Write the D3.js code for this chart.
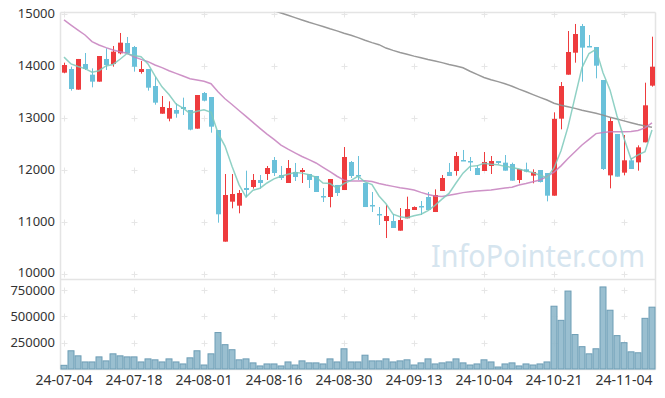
<!DOCTYPE html>
<html>
<head>
<meta charset="utf-8">
<script src="https://cdn.jsdelivr.net/npm/d3@7"></script>
<style>
  body { margin: 0; background: #fff; }
  text { font-family: "Noto Sans", "Open Sans", sans-serif; }
</style>
</head>
<body>
<div id="c1"></div>
<script>
// Data (trading days, 24-07-04 .. 24-11-08)
var dates = [
  "24-07-04","24-07-05","24-07-08","24-07-09","24-07-10","24-07-11","24-07-12","24-07-15","24-07-16","24-07-17",
  "24-07-18","24-07-19","24-07-22","24-07-23","24-07-24","24-07-25","24-07-26","24-07-29","24-07-30","24-07-31",
  "24-08-01","24-08-02","24-08-05","24-08-06","24-08-07","24-08-08","24-08-09","24-08-12","24-08-13","24-08-14",
  "24-08-16","24-08-19","24-08-20","24-08-21","24-08-22","24-08-23","24-08-26","24-08-27","24-08-28","24-08-29",
  "24-08-30","24-09-02","24-09-03","24-09-04","24-09-05","24-09-06","24-09-09","24-09-10","24-09-11","24-09-12",
  "24-09-13","24-09-19","24-09-20","24-09-23","24-09-24","24-09-25","24-09-26","24-09-27","24-09-30","24-10-02",
  "24-10-04","24-10-07","24-10-08","24-10-10","24-10-11","24-10-14","24-10-15","24-10-16","24-10-17","24-10-18",
  "24-10-21","24-10-22","24-10-23","24-10-24","24-10-25","24-10-28","24-10-29","24-10-30","24-10-31","24-11-01",
  "24-11-04","24-11-05","24-11-06","24-11-07","24-11-08"
];

var open = [
  13872,13942,13545,14038,13833,13699,14135,14038,14244,14442,
  14365,13885,13942,13615,13083,12987,13154,13212,13154,12795,
  13481,13404,12769,10622,11391,11314,11654,11673,11808,11923,
  12192,11904,11750,11962,11962,11923,11885,11500,11481,11712,
  11615,12154,11904,11750,11327,11154,11019,11019,10833,11071,
  11231,11308,11481,11192,11596,11962,11981,12192,12173,12038,
  11981,12077,12173,12141,12115,11808,12013,11891,12000,11942,
  11506,12987,13833,14256,14769,14385,14365,13731,11897,12692,
  11949,12186,12147,12532,13622
];
var high = [
  14064,13987,14135,14250,13955,14192,14340,14385,14635,14558,
  14385,14096,13942,13795,13423,13320,13282,13391,13154,13442,
  13500,13404,12769,11923,11923,11615,11987,11923,11904,12077,
  12250,12077,12192,12135,12038,11923,11885,11654,11827,11712,
  12442,12173,12269,11750,11577,11288,11327,11154,11269,11487,
  11300,11404,11577,11628,11904,12135,12346,12385,12250,12096,
  12346,12269,12173,12288,12141,12019,12141,12013,12000,11942,
  13109,13692,14673,14808,14808,14596,14365,13731,13006,12692,
  12673,12231,12474,13679,14564
];
var low = [
  13860,13526,13545,13923,13590,13699,13923,13987,14224,14244,
  13891,13853,13526,13256,13083,12936,13006,13058,12763,12795,
  13320,12718,10987,10622,11263,11167,11475,11641,11641,11808,
  11885,11808,11750,11788,11750,11654,11577,11385,11282,11500,
  11615,11846,11808,11288,11192,10942,10692,10885,10833,11071,
  11231,11135,11231,11192,11596,11885,11891,12173,11981,11904,
  11981,11923,12115,11987,11795,11744,11955,11744,11760,11397,
  11506,12782,13833,14064,13699,14365,13763,12000,11647,11872,
  11897,12019,11987,12532,13603
];
var close = [
  14019,13558,14135,13942,13699,14192,14019,14276,14449,14244,
  13987,13942,13583,13295,13212,13192,13083,13173,12776,13442,
  13333,12833,11148,11519,11538,11558,11615,11808,11750,12038,
  11942,11846,12038,11865,12000,11808,11577,11481,11827,11558,
  12250,11885,11885,11288,11308,11130,11115,10885,11038,11250,
  11288,11290,11231,11519,11846,11885,12269,12173,12154,11904,
  12154,12173,12135,11987,11795,12019,11968,11962,11769,11506,
  12981,13615,14269,14615,14353,14365,14006,12019,12942,11872,
  12186,12019,12436,13244,13987
];
var volume = [
  35000,173000,125000,67000,67000,115000,77000,144000,125000,115000,
  115000,67000,96000,87000,67000,96000,67000,48000,106000,173000,
  38000,144000,346000,231000,183000,87000,96000,58000,29000,48000,
  48000,29000,67000,38000,77000,58000,58000,48000,96000,67000,
  192000,67000,67000,131000,77000,77000,96000,67000,77000,87000,
  38000,58000,96000,48000,58000,67000,96000,58000,38000,48000,
  87000,67000,19000,48000,58000,29000,48000,38000,48000,67000,
  596000,462000,740000,327000,212000,144000,192000,779000,558000,317000,
  250000,163000,154000,481000,587000
];
var ma5 = [
  14170,14040,13990,13950,13880,13910,14000,14030,14130,14240,
  14200,14180,14040,13810,13600,13450,13270,13190,13090,13130,
  13160,13110,12710,12460,12070,11720,11480,11610,11650,11750,
  11830,11880,11920,11950,11940,11910,11860,11750,11740,11650,
  11740,11800,11880,11770,11720,11500,11350,11150,11100,11080,
  11120,11150,11220,11320,11440,11550,11750,11940,12070,12080,
  12130,12110,12100,12070,12050,12020,11980,11950,11900,11850,
  12040,12370,12830,13400,13970,14240,14320,13870,13540,13040,
  12610,12210,12290,12350,12770
];
var ma20 = [
  14885,14788,14692,14596,14468,14404,14353,14308,14276,14244,
  14179,14128,14083,14019,13968,13910,13859,13808,13756,13731,
  13705,13660,13506,13370,13260,13145,13030,12915,12800,12690,
  12590,12480,12400,12330,12260,12200,12135,12050,11967,11880,
  11805,11790,11790,11795,11780,11740,11710,11685,11660,11640,
  11615,11570,11530,11500,11490,11515,11540,11565,11583,11595,
  11605,11615,11635,11655,11670,11710,11740,11775,11808,11875,
  11960,12080,12220,12350,12480,12590,12700,12720,12737,12737,
  12737,12740,12760,12810,12905
];
var ma60 = [
  null,null,null,null,null,null,null,null,null,null,
  null,null,null,null,null,null,null,null,null,null,
  null,null,null,null,null,null,null,null,null,15110,
  15065,15020,14975,14930,14885,14840,14800,14760,14715,14675,
  14630,14590,14545,14495,14450,14410,14345,14300,14260,14225,
  14190,14160,14125,14095,14065,14030,14000,13965,13900,13840,
  13780,13735,13700,13660,13610,13555,13505,13450,13397,13345,
  13285,13245,13215,13185,13150,13120,13090,13055,13015,12980,
  12945,12910,12875,12845,12820
];

var priceTicks = [10000, 11000, 12000, 13000, 14000, 15000];
var volumeTicks = [250000, 500000, 750000];
var dateTickIdx = [0, 10, 20, 30, 40, 50, 60, 70, 80];

// Layout
var w = 665, h = 398;
var left = 60.5, right = 655.5;
var pTop = 12.5, pBottom = 279.5;
var vBottom = 369.5;

var upColor = "#ee3b3d";
var downColor = "#6ac1da";
var frameColor = "#e4e4e4";

function draw() {
    var svg = d3.select("#c1").append("svg")
        .attr("width", w)
        .attr("height", h);

    var idx = d3.range(dates.length);

    var x = d3.scaleBand()
        .domain(idx)
        .range([left, right]);

    var yP = d3.scaleLinear().domain([10000, 15000]).range([274, 14]);
    var yV = d3.scaleLinear().domain([0, 750000]).range([369, 290]);

    function cx(i) { return x(i) + x.bandwidth() / 2; }

    svg.append("clipPath").attr("id", "clipP")
        .append("rect")
        .attr("x", left).attr("y", pTop)
        .attr("width", right - left).attr("height", pBottom - pTop);

    // grid markers "+"
    var grid = svg.append("g").attr("stroke", "#e6e6e6").attr("stroke-width", 1);
    var rowsY = priceTicks.map(function (v) { return yP(v); })
        .concat(volumeTicks.map(function (v) { return yV(v); }));
    dateTickIdx.forEach(function (i) {
        rowsY.forEach(function (yy) {
            var px = Math.round(cx(i)) + 0.5, py = Math.round(yy) + 0.5;
            grid.append("line").attr("x1", px - 3).attr("x2", px + 3).attr("y1", py).attr("y2", py);
            grid.append("line").attr("x1", px).attr("x2", px).attr("y1", py - 3).attr("y2", py + 3);
        });
    });

    // frames
    var frame = svg.append("g").attr("stroke", frameColor).attr("stroke-width", 1.5).attr("fill", "none");
    frame.append("line").attr("x1", left).attr("x2", left).attr("y1", pTop).attr("y2", vBottom);
    frame.append("line").attr("x1", left).attr("x2", right).attr("y1", pTop).attr("y2", pTop);
    frame.append("line").attr("x1", right).attr("x2", right).attr("y1", pTop).attr("y2", vBottom);
    frame.append("line").attr("x1", left).attr("x2", right).attr("y1", pBottom).attr("y2", pBottom);
    frame.append("line").attr("x1", left).attr("x2", right).attr("y1", vBottom).attr("y2", vBottom);

    // watermark
    svg.append("text")
        .attr("x", 431).attr("y", 267)
        .attr("font-size", 31)
        .attr("textLength", 214)
        .attr("lengthAdjust", "spacingAndGlyphs")
        .attr("fill", "#d6e5ef")
        .text("InfoPointer.com");

    // volume bars
    svg.append("g")
        .selectAll("rect")
        .data(idx)
        .enter()
        .append("rect")
        .attr("x", function (i) { return x(i) + 0.5; })
        .attr("width", x.bandwidth() - 1)
        .attr("y", function (i) { return yV(volume[i]); })
        .attr("height", function (i) { return yV(0) - yV(volume[i]); })
        .attr("fill", "#8fb8cb")
        .attr("fill-opacity", 0.9)
        .attr("stroke", "#6d9db5")
        .attr("stroke-width", 1);

    // candles
    var candles = svg.append("g").attr("clip-path", "url(#clipP)")
        .selectAll("g")
        .data(idx)
        .enter()
        .append("g");

    candles.append("line")
        .attr("x1", function (i) { return Math.round(cx(i)) + 0.5; })
        .attr("x2", function (i) { return Math.round(cx(i)) + 0.5; })
        .attr("y1", function (i) { return yP(high[i]); })
        .attr("y2", function (i) { return yP(low[i]); })
        .attr("stroke", function (i) { return close[i] >= open[i] ? upColor : downColor; })
        .attr("stroke-width", 1);

    candles.append("rect")
        .attr("x", function (i) { return Math.round(cx(i)) - 2; })
        .attr("width", 5)
        .attr("y", function (i) { return yP(Math.max(open[i], close[i])); })
        .attr("height", function (i) {
            return Math.max(1.5, Math.abs(yP(open[i]) - yP(close[i])));
        })
        .attr("fill", function (i) { return close[i] >= open[i] ? upColor : downColor; });

    // moving averages
    function maLine(arr) {
        return d3.line()
            .defined(function (i) { return arr[i] != null; })
            .x(function (i) { return cx(i); })
            .y(function (i) { return yP(arr[i]); });
    }
    var lines = svg.append("g").attr("clip-path", "url(#clipP)").attr("fill", "none");
    lines.append("path").attr("d", maLine(ma60)(idx))
        .attr("stroke", "#8e8e8e").attr("stroke-width", 1.5).attr("stroke-opacity", 0.9);
    lines.append("path").attr("d", maLine(ma20)(idx))
        .attr("stroke", "#c57fbd").attr("stroke-width", 1.5).attr("stroke-opacity", 0.85);
    lines.append("path").attr("d", maLine(ma5)(idx))
        .attr("stroke", "#7dc9bb").attr("stroke-width", 1.5).attr("stroke-opacity", 0.85);

    // axis labels
    var labels = svg.append("g").attr("fill", "#333").attr("font-size", 13);
    labels.selectAll("text.p")
        .data(priceTicks)
        .enter()
        .append("text")
        .attr("x", 55)
        .attr("y", function (v) { return yP(v) + (v === 10000 ? 0 : 1); })
        .attr("text-anchor", "end")
        .attr("dominant-baseline", "middle")
        .text(function (v) { return v; });

    labels.selectAll("text.v")
        .data(volumeTicks)
        .enter()
        .append("text")
        .attr("x", 55)
        .attr("y", function (v) { return yV(v) + (v === 750000 ? 1.5 : 1); })
        .attr("text-anchor", "end")
        .attr("dominant-baseline", "middle")
        .text(function (v) { return v; });

    labels.selectAll("text.d")
        .data(dateTickIdx)
        .enter()
        .append("text")
        .attr("x", function (i) { return cx(i); })
        .attr("y", 381)
        .attr("text-anchor", "middle")
        .attr("dominant-baseline", "middle")
        .attr("font-size", 14)
        .text(function (i) { return dates[i]; });
}

draw();
</script>
</body>
</html>
